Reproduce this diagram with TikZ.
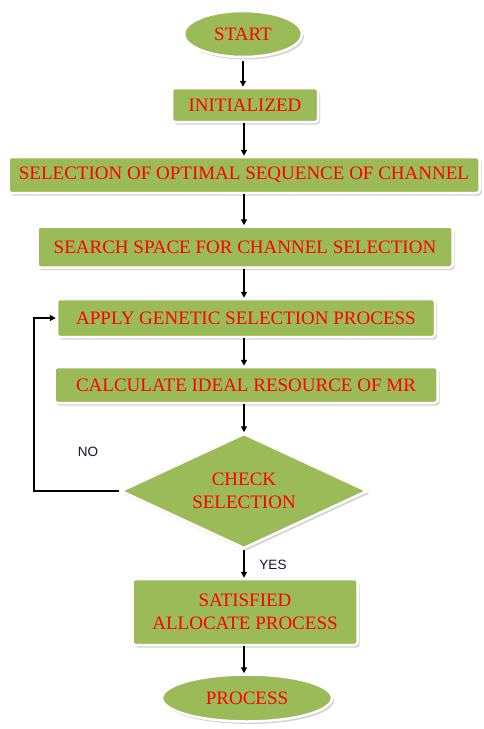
\documentclass[tikz,border=0pt]{standalone}
\usepackage{fontspec}
\setmainfont{Liberation Serif}
\newfontfamily\labelfont{Liberation Sans}
\usetikzlibrary{shapes.geometric,shadows,arrows.meta}
\definecolor{boxgreen}{HTML}{9BBB59}
\definecolor{lblblue}{HTML}{14142E}
\tikzset{
  base/.style={fill=boxgreen, draw=white, line width=2.5pt, text=red,
    font=\fontsize{19}{23}\selectfont, inner sep=0pt, align=center,
    drop shadow={shadow xshift=2pt, shadow yshift=-2.5pt, opacity=0.35, fill=gray}},
  procbox/.style={base, rectangle, rounded corners=3pt},
  termbox/.style={base, ellipse},
  decbox/.style={base, diamond},
  conn/.style={-{Triangle[length=6pt,width=6pt]}, line width=1.3pt, black},
  lbl/.style={font=\labelfont\fontsize{13.5}{15}\selectfont, text=lblblue}
}
\begin{document}
\begin{tikzpicture}[x=1pt,y=-1pt]
\useasboundingbox[fill=white] (0,0) rectangle (483,729);
\node[termbox, minimum width=118pt, minimum height=46pt] (start) at (243,34) {START};
\node[procbox, minimum width=146pt, minimum height=34pt] (init) at (245,105) {INITIALIZED};
\node[procbox, minimum width=471pt, minimum height=36pt] (sel) at (244,175) {SELECTION OF OPTIMAL SEQUENCE OF CHANNEL};
\node[procbox, minimum width=415pt, minimum height=41pt] (search) at (245,247) {SEARCH SPACE FOR CHANNEL SELECTION};
\node[procbox, minimum width=378pt, minimum height=38pt] (apply) at (246,318) {APPLY GENETIC SELECTION PROCESS};
\node[procbox, minimum width=383pt, minimum height=36pt] (calc) at (246,385) {CALCULATE IDEAL RESOURCE OF MR};
\node[decbox, minimum width=247pt, minimum height=115pt, aspect=2.15] (check) at (244,491) {CHECK\\SELECTION};
\node[procbox, minimum width=225pt, minimum height=66pt] (sat) at (245,612) {SATISFIED\\ALLOCATE PROCESS};
\node[termbox, minimum width=170pt, minimum height=47pt] (proc) at (247,698) {PROCESS};
\coordinate (loopc) at (34,491);
\node[lbl] (no) at (88,452) {NO};
\node[lbl] (yes) at (273,565) {YES};
\draw[conn, shorten <=3pt] (start.south) -- (start.south |- init.north);
\draw[conn] (init.south -| sel.north) -- (sel.north);
\draw[conn] (sel.south) -- (search.north -| sel.south);
\draw[conn] (search.south -| sel.south) -- (apply.north -| sel.south);
\draw[conn] (apply.south -| sel.south) -- (calc.north -| sel.south);
\draw[conn] (calc.south -| sel.south) -- (check.north);
\draw[conn] (check.south) -- (sat.north -| check.south);
\draw[conn] (sat.south -| check.south) -- (proc.north -| check.south);
\draw[conn] (check.west) -- (loopc) |- (apply.west);
\end{tikzpicture}
\end{document}
